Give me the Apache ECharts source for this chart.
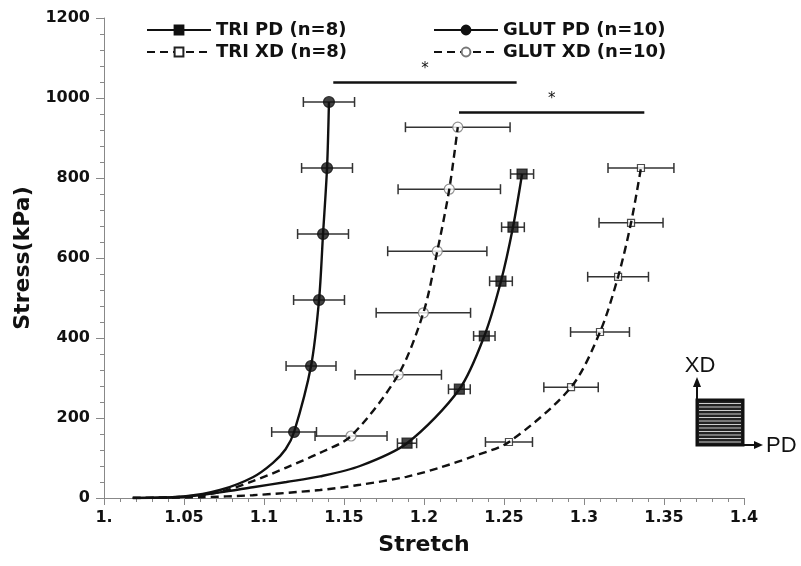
<!DOCTYPE html>
<html>
<head>
<meta charset="utf-8">
<script src="https://cdn.jsdelivr.net/npm/echarts@6/dist/echarts.min.js"></script>
<style>
html, body { margin: 0; padding: 0; background: #fff; }
#main { width: 801px; height: 566px; }
</style>
</head>
<body>
<div id="main"></div>
<script>
// measured points: stretch, stress (kPa), half width of the stretch error bar
var triPdX = [1.1894, 1.2221, 1.2377, 1.2481, 1.2556, 1.2613];
var triPdY = [137, 272, 405, 542, 677, 810];
var triPdErr = [0.006, 0.0068, 0.0067, 0.0071, 0.0071, 0.0072];

var triXdX = [1.2531, 1.2919, 1.31, 1.3213, 1.3294, 1.3356];
var triXdY = [140, 277, 415, 553, 688, 825];
var triXdErr = [0.0147, 0.017, 0.0184, 0.019, 0.02, 0.0206];

var glutPdX = [1.1188, 1.1294, 1.1344, 1.1369, 1.1394, 1.1406];
var glutPdY = [165, 330, 495, 660, 825, 990];
var glutPdErr = [0.014, 0.0156, 0.0159, 0.0159, 0.0159, 0.016];

var glutXdX = [1.1544, 1.1839, 1.1996, 1.2083, 1.2158, 1.2211];
var glutXdY = [155, 308, 463, 617, 772, 927];
var glutXdErr = [0.0225, 0.027, 0.0295, 0.031, 0.032, 0.0327];

// toe region of the fitted curves
var triPdFoot = [[1.018, 0], [1.05, 3], [1.0725, 14], [1.093, 27], [1.114, 40], [1.135, 54], [1.16, 80]];
var triXdFoot = [[1.018, 0], [1.06, 2], [1.093, 7], [1.135, 20], [1.16, 33], [1.189, 53], [1.21, 76], [1.2306, 104]];
var glutPdFoot = [[1.018, 0], [1.05, 4], [1.0725, 20], [1.093, 52], [1.1056, 88], [1.1135, 122]];
var glutXdFoot = [[1.018, 0], [1.05, 3], [1.0725, 15], [1.093, 42], [1.114, 76], [1.135, 113]];

// significance bars: from, to, stress level
var sigBars = [[1.1433, 1.2579, 1039], [1.2219, 1.3377, 964]];

var names = ['TRI PD (n=8)', 'TRI XD (n=8)', 'GLUT PD (n=10)', 'GLUT XD (n=10)'];

var FONT = 'DejaVu Sans';

function renderErr(params, api) {
  var x = api.value(0), y = api.value(1), e = api.value(2);
  var a = api.coord([x - e, y]);
  var b = api.coord([x + e, y]);
  var st = { stroke: '#333', lineWidth: 1.5 };
  return {
    type: 'group',
    children: [
      { type: 'line', shape: { x1: a[0], y1: a[1], x2: b[0], y2: b[1] }, style: st },
      { type: 'line', shape: { x1: a[0], y1: a[1] - 5, x2: a[0], y2: a[1] + 5 }, style: st },
      { type: 'line', shape: { x1: b[0], y1: b[1] - 5, x2: b[0], y2: b[1] + 5 }, style: st }
    ]
  };
}

function renderSig(params, api) {
  var a = api.coord([api.value(0), api.value(2)]);
  var b = api.coord([api.value(1), api.value(2)]);
  return {
    type: 'group',
    children: [
      { type: 'line', shape: { x1: a[0], y1: a[1], x2: b[0], y2: b[1] }, style: { stroke: '#111', lineWidth: 2.5 } },
      { type: 'text', x: (a[0] + b[0]) / 2, y: a[1] - 13, style: { text: '*', fill: '#111', font: '15px ' + FONT, align: 'center', verticalAlign: 'middle' } }
    ]
  };
}

function makeGroup(name, xs, ys, errs, foot, dashed, symbol, size, fill, stroke) {
  var pts = xs.map(function (x, i) { return [x, ys[i]]; });
  var itemStyle = { color: fill, borderColor: stroke, borderWidth: 1.2 };
  return [
    {
      name: name, type: 'line', data: foot.concat(pts), smooth: 0.3,
      showSymbol: false, symbol: symbol, symbolSize: size, itemStyle: itemStyle,
      lineStyle: { color: '#111', width: 2.4, type: dashed ? [8, 5] : 'solid' },
      z: 4, silent: true
    },
    {
      name: name, type: 'custom', renderItem: renderErr, z: 1, silent: true,
      data: xs.map(function (x, i) { return [x, ys[i], errs[i]]; })
    },
    {
      name: name, type: 'scatter', data: pts, symbol: symbol, symbolSize: size,
      itemStyle: itemStyle, z: 2, silent: true
    }
  ];
}

var series = [].concat(
  makeGroup(names[0], triPdX, triPdY, triPdErr, triPdFoot, false, 'rect', 10, '#111', '#111'),
  makeGroup(names[1], triXdX, triXdY, triXdErr, triXdFoot, true, 'rect', 7, '#fff', '#222'),
  makeGroup(names[2], glutPdX, glutPdY, glutPdErr, glutPdFoot, false, 'circle', 11, '#111', '#111'),
  makeGroup(names[3], glutXdX, glutXdY, glutXdErr, glutXdFoot, true, 'circle', 10, '#fff', '#777')
);
series.push({
  type: 'custom', renderItem: renderSig, data: sigBars, z: 5, silent: true
});

var legendText = { fontFamily: FONT, fontWeight: 'bold', fontSize: 18, color: '#111' };

// little sample sketch in the lower right: hatched square with PD / XD arrows
var stripes = [];
for (var i = 0; i < 12; i++) {
  stripes.push({
    type: 'line', shape: { x1: 699, y1: 403.5 + i * 3.5, x2: 741, y2: 403.5 + i * 3.5 },
    style: { stroke: '#ccc', lineWidth: 1.2 }
  });
}

var option = {
  animation: false,
  backgroundColor: '#fff',
  grid: { left: 104, right: 57, top: 18, bottom: 68 },
  legend: [
    {
      left: 146, top: 21, orient: 'vertical', itemGap: 4, itemWidth: 64, itemHeight: 11,
      padding: 0, data: [names[0], names[1]], textStyle: legendText, selectedMode: false
    },
    {
      left: 433, top: 21, orient: 'vertical', itemGap: 4, itemWidth: 64, itemHeight: 11,
      padding: 0, data: [names[2], names[3]], textStyle: legendText, selectedMode: false
    }
  ],
  xAxis: {
    type: 'value', min: 1, max: 1.4, interval: 0.05,
    name: 'Stretch', nameLocation: 'middle', nameGap: 36,
    nameTextStyle: { fontFamily: FONT, fontWeight: 'bold', fontSize: 22, color: '#111' },
    axisLine: { lineStyle: { color: '#888', width: 1 } },
    axisTick: { length: 7, lineStyle: { color: '#888' } },
    minorTick: { show: true, splitNumber: 5, length: 4, lineStyle: { color: '#888' } },
    splitLine: { show: false },
    axisLabel: {
      margin: 12, fontFamily: FONT, fontWeight: 'bold', fontSize: 16, color: '#111',
      formatter: function (v) { return v === 1 ? '1.' : String(+v.toFixed(2)); }
    }
  },
  yAxis: {
    type: 'value', min: 0, max: 1200, interval: 200,
    name: 'Stress(kPa)', nameLocation: 'middle', nameGap: 68,
    nameTextStyle: { fontFamily: FONT, fontWeight: 'bold', fontSize: 22, color: '#111' },
    axisLine: { show: true, lineStyle: { color: '#888', width: 1 } },
    axisTick: { show: true, length: 8, lineStyle: { color: '#888' } },
    minorTick: { show: true, splitNumber: 5, length: 4, lineStyle: { color: '#888' } },
    splitLine: { show: false },
    axisLabel: {
      margin: 14, fontFamily: FONT, fontWeight: 'bold', fontSize: 16, color: '#111',
      formatter: function (v) { return String(v); }
    }
  },
  graphic: [{
    type: 'group', silent: true,
    children: [
      { type: 'rect', shape: { x: 697, y: 400, width: 46, height: 45 }, style: { fill: '#222', stroke: '#111', lineWidth: 3 } }
    ].concat(stripes).concat([
      { type: 'line', shape: { x1: 697, y1: 445, x2: 697, y2: 385 }, style: { stroke: '#111', lineWidth: 2 } },
      { type: 'polygon', shape: { points: [[693, 387], [701, 387], [697, 377]] }, style: { fill: '#111' } },
      { type: 'line', shape: { x1: 697, y1: 445, x2: 756, y2: 445 }, style: { stroke: '#111', lineWidth: 2 } },
      { type: 'polygon', shape: { points: [[754, 441], [754, 449], [763, 445]] }, style: { fill: '#111' } },
      { type: 'text', x: 700, y: 366, style: { text: 'XD', font: '22px "Liberation Sans"', fill: '#111', align: 'center', verticalAlign: 'middle' } },
      { type: 'text', x: 766, y: 446, style: { text: 'PD', font: '22px "Liberation Sans"', fill: '#111', align: 'left', verticalAlign: 'middle' } }
    ])
  }],
  series: series
};

var chart = echarts.init(document.getElementById('main'));
chart.setOption(option);
</script>
</body>
</html>
